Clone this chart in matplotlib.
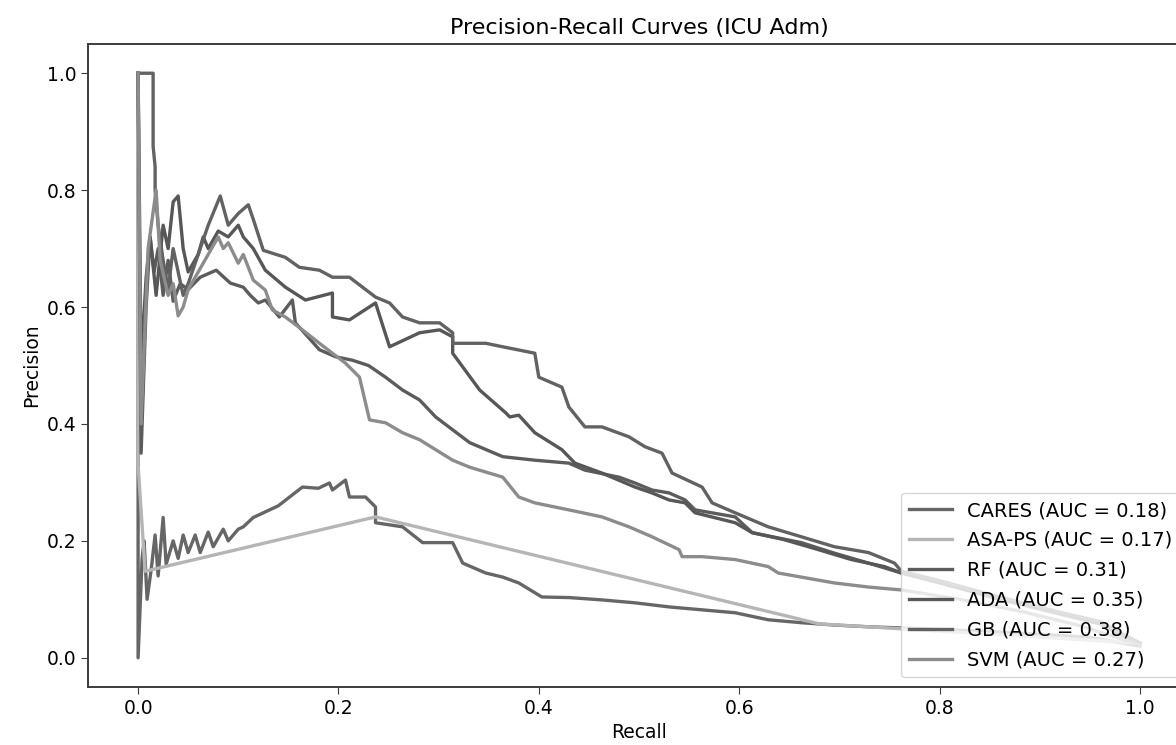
import matplotlib
matplotlib.use("Agg")
import matplotlib.pyplot as plt

# ---------------------
# Curve data
# ---------------------
cares_recall = [0.0, 0.0, 0.004, 0.006, 0.009, 0.013, 0.017, 0.02, 0.025, 0.028, 0.035, 0.04, 0.045,
                0.05, 0.057, 0.062, 0.07, 0.075, 0.085, 0.09, 0.1, 0.105, 0.115, 0.125, 0.14, 0.155,
                0.164, 0.18, 0.191, 0.194, 0.207, 0.211, 0.227, 0.237, 0.237, 0.264, 0.284, 0.314,
                0.324, 0.347, 0.364, 0.38, 0.403, 0.43, 0.463, 0.496, 0.53, 0.563, 0.596, 0.629,
                0.662, 0.695, 0.729, 0.762, 0.85, 0.95, 1.0]
cares_precision = [1.0, 0.0, 0.17, 0.2, 0.1, 0.15, 0.21, 0.14, 0.24, 0.16, 0.2, 0.17, 0.21,
                   0.18, 0.21, 0.18, 0.215, 0.19, 0.22, 0.2, 0.22, 0.224, 0.24, 0.248, 0.26, 0.28,
                   0.292, 0.29, 0.299, 0.287, 0.304, 0.275, 0.275, 0.258, 0.231, 0.224, 0.197, 0.197,
                   0.162, 0.145, 0.138, 0.128, 0.104, 0.103, 0.099, 0.094, 0.087, 0.082, 0.077, 0.065,
                   0.06, 0.056, 0.053, 0.051, 0.045, 0.035, 0.02]

asa_recall = [0.0, 0.0, 0.007, 0.237, 0.68, 1.0]
asa_precision = [1.0, 0.33, 0.148, 0.241, 0.058, 0.025]

rf_recall = [0.0, 0.003, 0.008, 0.012, 0.016, 0.02, 0.025, 0.03, 0.035, 0.042, 0.05, 0.062, 0.078,
             0.092, 0.105, 0.112, 0.12, 0.127, 0.141, 0.154, 0.157, 0.181, 0.197, 0.214, 0.23,
             0.247, 0.264, 0.281, 0.297, 0.314, 0.331, 0.364, 0.396, 0.43, 0.446, 0.48, 0.496,
             0.513, 0.53, 0.546, 0.556, 0.596, 0.613, 0.662, 0.695, 0.729, 0.762, 0.8, 0.86,
             0.92, 0.96, 1.0]
rf_precision = [1.0, 0.35, 0.6, 0.72, 0.66, 0.7, 0.62, 0.68, 0.61, 0.64, 0.63, 0.651, 0.663,
                0.641, 0.634, 0.62, 0.607, 0.612, 0.583, 0.612, 0.573, 0.527, 0.515, 0.509, 0.5,
                0.48, 0.458, 0.441, 0.412, 0.39, 0.368, 0.344, 0.338, 0.333, 0.321, 0.309, 0.299,
                0.287, 0.282, 0.27, 0.253, 0.241, 0.214, 0.197, 0.179, 0.162, 0.145, 0.128, 0.1,
                0.075, 0.058, 0.022]

ada_recall = [0.0, 0.003, 0.008, 0.012, 0.018, 0.025, 0.03, 0.035, 0.04, 0.045, 0.05, 0.06, 0.065,
              0.07, 0.08, 0.09, 0.1, 0.105, 0.115, 0.127, 0.147, 0.167, 0.194, 0.194, 0.211, 0.237,
              0.251, 0.281, 0.301, 0.314, 0.314, 0.341, 0.367, 0.371, 0.38, 0.396, 0.423, 0.436,
              0.463, 0.496, 0.513, 0.53, 0.546, 0.556, 0.596, 0.613, 0.645, 0.679, 0.712, 0.745,
              0.762, 0.8, 0.86, 0.92, 0.96, 1.0]
ada_precision = [1.0, 0.5, 0.65, 0.72, 0.62, 0.74, 0.7, 0.78, 0.79, 0.7, 0.66, 0.69, 0.72,
                 0.7, 0.73, 0.72, 0.74, 0.72, 0.7, 0.663, 0.634, 0.612, 0.624, 0.583, 0.578, 0.607,
                 0.532, 0.556, 0.561, 0.549, 0.521, 0.458, 0.419, 0.412, 0.415, 0.385, 0.356, 0.333,
                 0.316, 0.292, 0.282, 0.27, 0.265, 0.248, 0.231, 0.214, 0.202, 0.185, 0.168, 0.156,
                 0.145, 0.13, 0.102, 0.077, 0.06, 0.025]

gb_recall = [0.0, 0.015, 0.015, 0.017, 0.017, 0.02, 0.025, 0.03, 0.035, 0.04, 0.045, 0.05, 0.06,
             0.07, 0.082, 0.09, 0.1, 0.11, 0.115, 0.125, 0.147, 0.161, 0.181, 0.194, 0.211, 0.224,
             0.237, 0.251, 0.264, 0.281, 0.301, 0.314, 0.314, 0.347, 0.364, 0.396, 0.4, 0.423,
             0.43, 0.446, 0.463, 0.49, 0.506, 0.523, 0.533, 0.563, 0.573, 0.596, 0.629, 0.662,
             0.695, 0.729, 0.755, 0.762, 0.8, 0.86, 0.92, 0.96, 1.0]
gb_precision = [1.0, 1.0, 0.875, 0.84, 0.8, 0.74, 0.68, 0.63, 0.7, 0.66, 0.62, 0.64, 0.69,
                0.74, 0.79, 0.74, 0.76, 0.775, 0.75, 0.697, 0.685, 0.668, 0.663, 0.651, 0.651, 0.634,
                0.617, 0.607, 0.583, 0.573, 0.573, 0.556, 0.538, 0.538, 0.532, 0.521, 0.48, 0.463,
                0.429, 0.395, 0.395, 0.378, 0.361, 0.35, 0.316, 0.292, 0.265, 0.248, 0.224, 0.207,
                0.19, 0.18, 0.162, 0.148, 0.132, 0.104, 0.078, 0.062, 0.025]

svm_recall = [0.0, 0.003, 0.01, 0.018, 0.022, 0.03, 0.035, 0.04, 0.045, 0.05, 0.06, 0.07, 0.08,
              0.085, 0.09, 0.1, 0.105, 0.115, 0.127, 0.134, 0.147, 0.164, 0.181, 0.194, 0.207,
              0.221, 0.227, 0.231, 0.247, 0.264, 0.281, 0.297, 0.314, 0.331, 0.364, 0.38, 0.396,
              0.43, 0.463, 0.49, 0.513, 0.54, 0.543, 0.563, 0.596, 0.629, 0.639, 0.662, 0.695,
              0.729, 0.762, 0.82, 0.88, 0.94, 1.0]
svm_precision = [1.0, 0.4, 0.7, 0.8, 0.68, 0.62, 0.64, 0.585, 0.6, 0.63, 0.66, 0.69, 0.72,
                 0.7, 0.71, 0.675, 0.69, 0.646, 0.629, 0.595, 0.583, 0.561, 0.538, 0.521, 0.504,
                 0.48, 0.436, 0.407, 0.402, 0.385, 0.373, 0.356, 0.338, 0.326, 0.309, 0.275, 0.265,
                 0.253, 0.241, 0.224, 0.207, 0.185, 0.173, 0.173, 0.168, 0.156, 0.145, 0.138, 0.128,
                 0.121, 0.116, 0.1, 0.08, 0.055, 0.022]

labels = ["CARES (AUC = 0.18)", "ASA-PS (AUC = 0.17)", "RF (AUC = 0.31)",
          "ADA (AUC = 0.35)", "GB (AUC = 0.38)", "SVM (AUC = 0.27)"]
colors = ["#666666", "#b5b5b5", "#5c5c5c", "#575757", "#626262", "#8c8c8c"]

curves = [(cares_recall, cares_precision), (asa_recall, asa_precision),
          (rf_recall, rf_precision), (ada_recall, ada_precision),
          (gb_recall, gb_precision), (svm_recall, svm_precision)]

# ---------------------
# Figure setup
# ---------------------
plt.rcParams["font.family"] = "DejaVu Sans"
plt.rcParams["font.size"] = 13

fig = plt.figure(figsize=(11.76, 7.45), dpi=100)
# axes runs past the right edge, like the cropped original
ax = fig.add_axes([88 / 1176, 58 / 745, (1190 - 88) / 1176, (687 - 44) / 745])

for (r, p), lab, c in zip(curves, labels, colors):
    ax.plot(r, p, color=c, lw=2.4, label=lab)

ax.set_xlim(-0.05, 1.05)
ax.set_ylim(-0.05, 1.05)
ax.set_xticks([0.0, 0.2, 0.4, 0.6, 0.8, 1.0])
ax.set_yticks([0.0, 0.2, 0.4, 0.6, 0.8, 1.0])
ax.set_xlabel("Recall", fontsize=13.5)
ax.set_ylabel("Precision", fontsize=13.5)
ax.set_title("Precision-Recall Curves (ICU Adm)", fontsize=16, pad=7)

for s in ax.spines.values():
    s.set_color("#3c3c3c")
    s.set_linewidth(1.4)
ax.tick_params(length=5, color="#3c3c3c", labelsize=13.5)

ax.legend(loc="lower right", fontsize=14, handlelength=2.2, labelspacing=0.56)

fig.savefig("out.png", dpi=100)
